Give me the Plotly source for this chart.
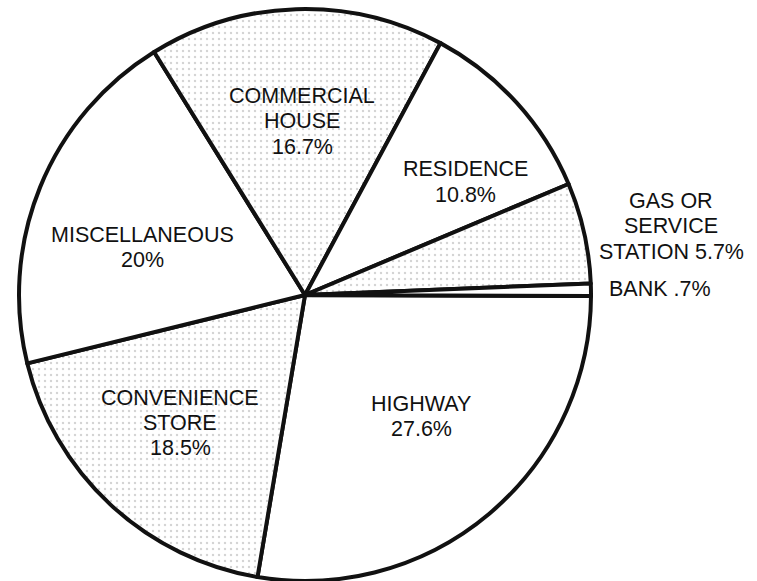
import plotly.graph_objects as go

# ---- data ----
categories = ["HIGHWAY", "CONVENIENCE STORE", "MISCELLANEOUS", "COMMERCIAL HOUSE",
              "RESIDENCE", "GAS OR SERVICE STATION", "BANK"]
percent = [27.6, 18.5, 20.0, 16.7, 10.8, 5.7, 0.7]
label_lines = [
    ["HIGHWAY", "27.6%"],
    ["CONVENIENCE", "STORE", "18.5%"],
    ["MISCELLANEOUS", "20%"],
    ["COMMERCIAL", "HOUSE", "16.7%"],
    ["RESIDENCE", "10.8%"],
    ["GAS OR", "SERVICE", "STATION 5.7%"],
    ["BANK .7%"],
]
stippled = [False, True, False, True, False, True, False]

# ---- layout helpers (pixel positions of label first-line centres) ----
W, H = 757, 581
label_anchor = [(421, 404), (180, 397.5), (142.5, 235), (302, 96),
                (465, 169.5), (671, 201), (659.5, 289)]
line_gap = 25.3

fig = go.Figure(go.Pie(
    labels=categories,
    values=percent,
    sort=False,
    direction="clockwise",
    rotation=90.2,
    textinfo="none",
    hoverinfo="label+percent",
    showlegend=False,
    marker=dict(
        colors=["#ffffff"] * len(percent),
        line=dict(color="#111111", width=4),
        pattern=dict(
            shape=["." if s else "" for s in stippled],
            fgcolor="#a8a8a8",
            bgcolor="#ffffff",
            size=6,
            solidity=0.12,
            fillmode="overlay",
        ),
    ),
    domain=dict(x=[19 / W, 591 / W], y=[0, 572 / H]),
))

annotations = []
for (cx, cy), lines in zip(label_anchor, label_lines):
    for i, txt in enumerate(lines):
        annotations.append(dict(
            x=cx / W, y=1 - (cy + i * line_gap) / H,
            xref="paper", yref="paper",
            text=txt, showarrow=False,
            xanchor="center", yanchor="middle",
            font=dict(family="Liberation Sans, Arial, sans-serif", size=21.5, color="#111111"),
        ))

fig.update_layout(
    width=W, height=H,
    margin=dict(l=0, r=0, t=0, b=0),
    paper_bgcolor="#ffffff",
    plot_bgcolor="#ffffff",
    annotations=annotations,
)

fig.write_html("out.html", config={"displayModeBar": False},
               post_script="document.body.style.margin='0';")
